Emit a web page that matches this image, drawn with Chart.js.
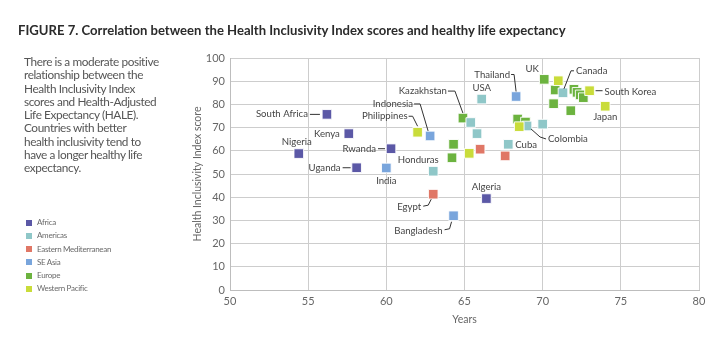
<!DOCTYPE html>
<html>
<head>
<meta charset="utf-8">
<script src="https://cdn.jsdelivr.net/npm/chart.js@4"></script>
<style>
  body { margin: 0; width: 728px; height: 343px; position: relative; background: #fff; overflow: hidden; font-family: Lato, sans-serif; }
  #c { position: absolute; left: 0; top: 0; }
  #title { position: absolute; left: 18px; top: 22px; font-weight: bold; font-size: 13.1px; color: #2b2b2b; white-space: nowrap; }
  #intro { position: absolute; left: 24px; top: 55px; font-size: 11.8px; letter-spacing: -0.4px; line-height: 13.25px; color: #555; white-space: nowrap; }
  #legend { position: absolute; left: 26px; top: 216px; font-size: 8px; letter-spacing: -0.3px; color: #6a6a6a; }
  #legend div { height: 13.3px; line-height: 13.3px; white-space: nowrap; }
  #legend span { display: inline-block; width: 6px; height: 6px; margin-right: 5px; vertical-align: -0.5px; }
</style>
</head>
<body>
<canvas id="c" width="728" height="343"></canvas>
<div id="title">FIGURE 7. Correlation between the Health Inclusivity Index scores and healthy life expectancy</div>
<div id="intro">There is a moderate positive<br>relationship between the<br>Health Inclusivity Index<br>scores and Health-Adjusted<br>Life Expectancy (HALE).<br>Countries with better<br>health inclusivity tend to<br>have a longer healthy life<br>expectancy.</div>
<div id="legend"></div>
<script>
const regions = ['Africa', 'Americas', 'Eastern Mediterranean', 'SE Asia', 'Europe', 'Western Pacific'];
const regionColors = ['#5b58a6', '#8fc7c8', '#e07766', '#79a5dc', '#6cb33f', '#c9dc3a'];

// HALE (years) vs index score, one set of arrays per region
const africaHale  = [56.2, 57.6, 54.4, 60.3, 58.1, 66.4];
const africaScore = [75.7, 67.4, 58.8, 60.9, 52.7, 39.4];
const africaNames = ['South Africa', 'Kenya', 'Nigeria', 'Rwanda', 'Uganda', 'Algeria'];

const americasHale  = [63.0, 66.1, 65.4, 65.8, 67.8, 69.0, 70.0, 71.3];
const americasScore = [51.2, 82.3, 72.2, 67.4, 62.8, 70.7, 71.5, 85.0];
const americasNames = ['Honduras', 'USA', '', '', 'Cuba', 'Colombia', '', 'Canada'];

const emedHale  = [63.0, 66.0, 67.6];
const emedScore = [41.3, 60.7, 57.8];
const emedNames = ['Egypt', '', ''];

const seAsiaHale  = [60.0, 62.8, 64.3, 68.3];
const seAsiaScore = [52.6, 66.4, 32.0, 83.4];
const seAsiaNames = ['India', 'Indonesia', 'Bangladesh', 'Thailand'];

const europeHale  = [64.9, 64.3, 64.2, 68.4, 68.9, 70.1, 70.8, 72.0, 72.2, 72.4, 72.6, 70.7, 71.8];
const europeScore = [74.1, 62.8, 57.0, 73.7, 72.4, 90.8, 86.2, 86.5, 85.2, 84.1, 82.9, 80.3, 77.3];
const europeNames = ['Kazakhstan', '', '', '', '', 'UK', '', '', '', '', '', '', ''];

const wpacHale  = [62.0, 65.3, 68.5, 71.0, 73.0, 74.0];
const wpacScore = [68.0, 58.9, 70.4, 90.2, 85.9, 79.2];
const wpacNames = ['Philippines', '', '', '', 'South Korea', 'Japan'];

const xTicks = [50, 55, 60, 65, 70, 75, 80];

// where each country name sits relative to its square (px), plus leader line
const labelLayout = {
  'South Africa': { dx: -19, dy: 0, align: 'right', line: [[-17, 0], [-7, 0]] },
  'Kenya':        { dx: -9, dy: 0, align: 'right' },
  'Nigeria':      { dx: -2, dy: -12, align: 'center' },
  'Rwanda':       { dx: -15, dy: 0, align: 'right', line: [[-13, 0], [-6, 0]] },
  'Uganda':       { dx: -16, dy: 0, align: 'right', line: [[-14, 0], [-6, 0]] },
  'India':        { dx: 0, dy: 13, align: 'center' },
  'Honduras':     { dx: -15, dy: -11, align: 'center' },
  'Egypt':        { dx: -12, dy: 13, align: 'right', line: [[-10, 12], [-5, 11], [-2, 5]] },
  'Bangladesh':   { dx: -11, dy: 15, align: 'right', line: [[-9, 14], [-4, 13], [-2, 6]] },
  'Algeria':      { dx: 0, dy: -12, align: 'center' },
  'Philippines':  { dx: -10, dy: -16, align: 'right', line: [[-9, -16], [-5, -16], [0, -6]] },
  'Indonesia':    { dx: -17, dy: -32, align: 'right', line: [[-16, -32], [-10, -32], [-2, -5]] },
  'Kazakhstan':   { dx: -16, dy: -27, align: 'right', line: [[-15, -27], [-8, -27], [0, -5]] },
  'USA':          { dx: 0, dy: -11, align: 'center' },
  'Thailand':     { dx: -6, dy: -22, align: 'right', line: [[-5, -22], [-2, -22], [0, -5]] },
  'UK':           { dx: -12, dy: -10, align: 'center' },
  'Canada':       { dx: 13, dy: -22, align: 'left', line: [[11, -22], [8, -22], [1, -4]] },
  'South Korea':  { dx: 15, dy: 1, align: 'left', line: [[6, 0], [13, 0]] },
  'Japan':        { dx: 0, dy: 11, align: 'center' },
  'Cuba':         { dx: 7, dy: 1, align: 'left' },
  'Colombia':     { dx: 21, dy: 13, align: 'left', line: [[4, 3], [13, 11], [19, 13]] }
};

const series = [
  [africaHale, africaScore, africaNames],
  [americasHale, americasScore, americasNames],
  [emedHale, emedScore, emedNames],
  [seAsiaHale, seAsiaScore, seAsiaNames],
  [europeHale, europeScore, europeNames],
  [wpacHale, wpacScore, wpacNames]
];

// legend on the left
const legendEl = document.getElementById('legend');
regions.forEach((r, i) => {
  const d = document.createElement('div');
  d.innerHTML = '<span style="background:' + regionColors[i] + '"></span>' + r;
  legendEl.appendChild(d);
});

const countryLabels = {
  id: 'countryLabels',
  afterDatasetsDraw(chart) {
    const ctx = chart.ctx;
    ctx.save();
    ctx.font = '9.6px Lato';
    ctx.fillStyle = '#444';
    ctx.strokeStyle = '#333';
    ctx.lineWidth = 1;
    ctx.textBaseline = 'middle';
    chart.data.datasets.forEach((ds, di) => {
      const meta = chart.getDatasetMeta(di);
      ds.names.forEach((name, i) => {
        const lay = labelLayout[name];
        if (!lay) return;
        const p = meta.data[i];
        if (lay.line) {
          ctx.beginPath();
          lay.line.forEach(([lx, ly], k) => {
            if (k === 0) ctx.moveTo(p.x + lx, p.y + ly);
            else ctx.lineTo(p.x + lx, p.y + ly);
          });
          ctx.stroke();
        }
        ctx.textAlign = lay.align;
        ctx.fillText(name, p.x + lay.dx, p.y + lay.dy);
      });
    });
    ctx.restore();
  }
};

new Chart(document.getElementById('c'), {
  type: 'scatter',
  data: {
    datasets: series.map(([xs, ys, names], i) => ({
      label: regions[i],
      names: names,
      data: xs.map((x, k) => ({ x: x, y: ys[k] })),
      backgroundColor: regionColors[i],
      borderColor: 'rgba(255,255,255,0.9)',
      borderWidth: 1,
      pointStyle: 'rect',
      pointRadius: 6.8,
      pointHoverRadius: 6.8,
      order: regions[i] === 'Europe' ? 9 : 6 - i
    }))
  },
  options: {
    responsive: false,
    animation: false,
    events: [],
    layout: { padding: { left: 185, top: 58, right: 29, bottom: 13 } },
    plugins: { legend: { display: false }, tooltip: { enabled: false } },
    scales: {
      x: {
        type: 'linear', min: 50, max: 80,
        afterBuildTicks: s => { s.ticks = xTicks.map(v => ({ value: v })); },
        afterFit: s => { s.height = 40; },
        grid: { color: '#cdcdcd', drawTicks: false },
        border: { color: '#bdbdbd' },
        ticks: { padding: 5, color: '#666', font: { family: 'Lato', size: 11 } },
        title: { display: true, text: 'Years', color: '#666', font: { family: 'Lato', size: 10.5 }, padding: { top: 0, bottom: 4 } }
      },
      y: {
        min: 0, max: 100,
        ticks: { stepSize: 10, padding: 5, color: '#666', font: { family: 'Lato', size: 11 } },
        afterFit: s => { s.width = 45; },
        grid: { color: '#cdcdcd', drawTicks: false },
        border: { color: '#bdbdbd' },
        title: { display: true, text: 'Health Inclusivity Index score', color: '#666', font: { family: 'Lato', size: 10.5 }, padding: { top: 6, bottom: 0 } }
      }
    }
  },
  plugins: [countryLabels]
});
</script>
</body>
</html>
